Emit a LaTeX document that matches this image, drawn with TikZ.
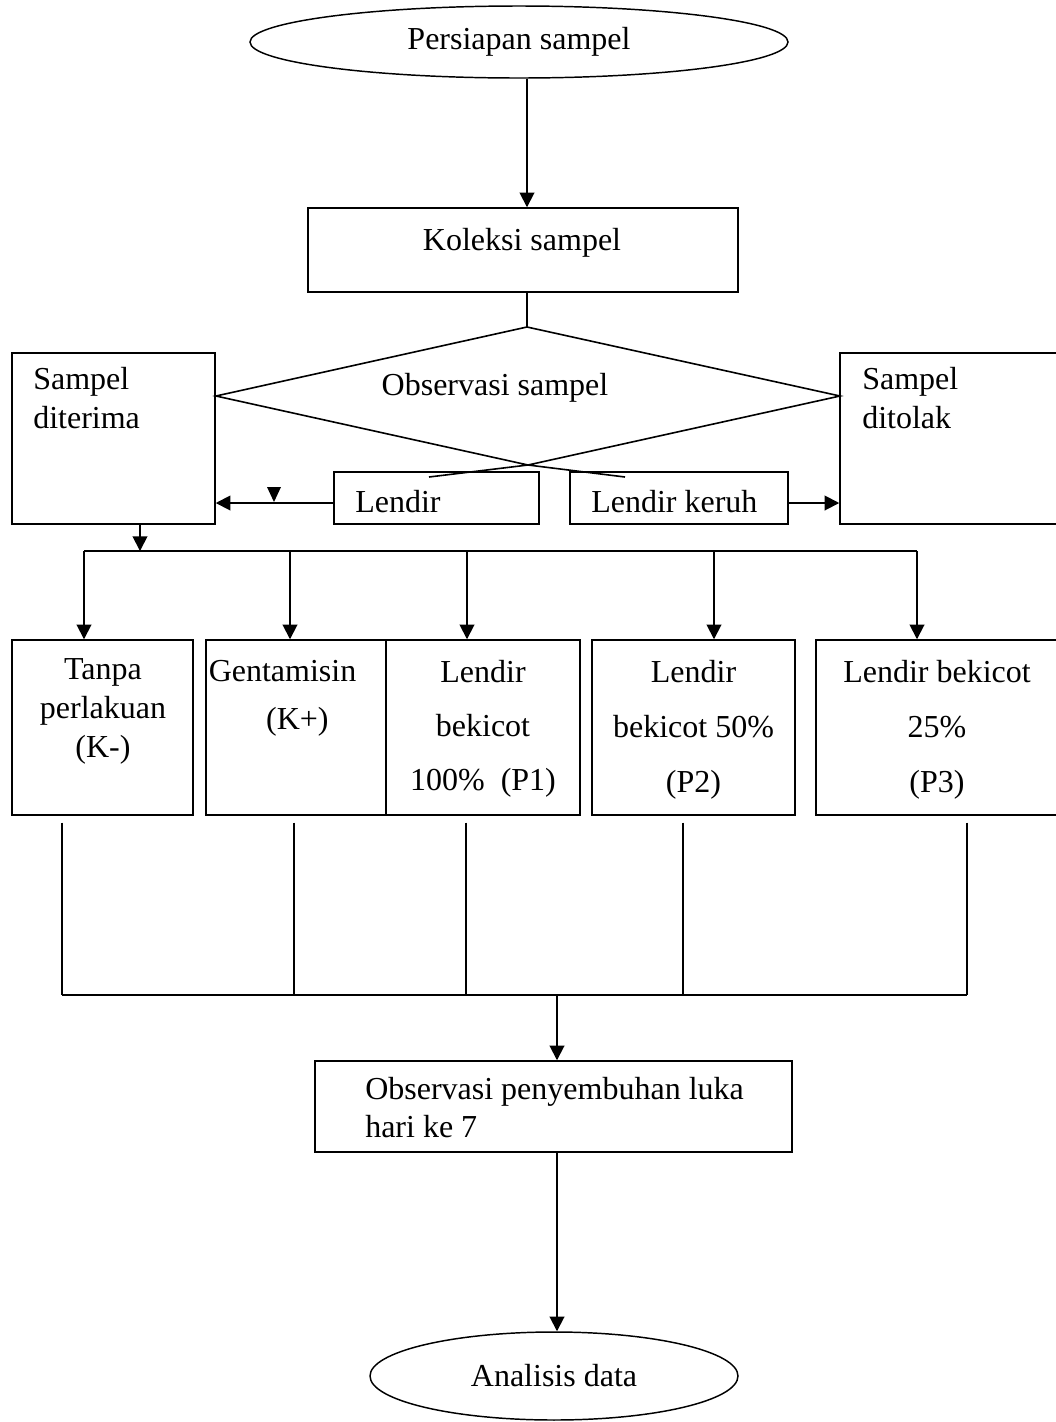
\documentclass[tikz,border=0pt]{standalone}
\usepackage{fontspec}
\setmainfont{Liberation Serif}
\usetikzlibrary{shapes.geometric,arrows.meta}
\begin{document}
\begin{tikzpicture}[x=0.75pt,y=-0.75pt,
  box/.style={draw,line width=1.1pt,inner sep=0pt,rectangle},
  oval/.style={draw,line width=1.1pt,inner sep=0pt,ellipse,font=\fontsize{24}{29}\selectfont},
  txt/.style={inner sep=0pt,font=\fontsize{24}{29}\selectfont},
  arr/.style={-{Triangle[width=11pt,length=11pt]},line width=1.4pt},
  ln/.style={line width=1.2pt}]
\useasboundingbox (0,0) rectangle (1056,1422);
\clip (0,0) rectangle (1056,1422);

% ellipses
\node[oval,minimum width=403.5pt,minimum height=54pt] (e1) at (519,42) {Persiapan sampel};
\node[oval,minimum width=276pt,minimum height=66pt] (e2) at (554,1376) {Analisis data};

% boxes
\node[box,minimum width=322.5pt,minimum height=63pt] (kol) at (523,250) {};
\node[box,minimum width=152.25pt,minimum height=128.25pt] (sd) at (113.5,438.5) {};
\node[box,minimum width=180pt,minimum height=128.25pt] (st) at (960,438.5) {};
\node[box,minimum width=153.75pt,minimum height=39pt] (len) at (436.5,498) {};
\node[box,minimum width=163.5pt,minimum height=39pt] (ker) at (679,498) {};
\node[box,minimum width=135.75pt,minimum height=131.25pt] (b1) at (102.5,727.5) {};
\node[box,minimum width=135pt,minimum height=131.25pt] (b2) at (296,727.5) {};
\node[box,minimum width=145.5pt,minimum height=131.25pt] (b3) at (483,727.5) {};
\node[box,minimum width=152.25pt,minimum height=131.25pt] (b4) at (693.5,727.5) {};
\node[box,minimum width=190.5pt,minimum height=131.25pt] (b5) at (943,727.5) {};
\node[box,minimum width=357.75pt,minimum height=68.25pt] (obs) at (553.5,1106.5) {};

% texts
\node[txt] (tkol) at (522,243) {Koleksi sampel};
\node[txt] (tos) at (495,388) {Observasi sampel};
\node[txt,align=left,anchor=west,font=\fontsize{24}{29.25}\selectfont] (tsd) at (33,398) {Sampel\\diterima};
\node[txt,align=left,anchor=west,font=\fontsize{24}{29.25}\selectfont] (tst) at (862,398) {Sampel\\ditolak};
\node[txt,anchor=west] (tlen) at (355,502) {Lendir};
\node[txt,anchor=west] (tker) at (591,502) {Lendir keruh};
\node[txt,align=center,font=\fontsize{24}{29.25}\selectfont] (tb1) at (103,711) {Tanpa\\perlakuan\\(K-)};
\node[txt,align=left,anchor=west,font=\fontsize{24}{36}\selectfont] (tb2) at (208.5,698) {Gentamisin\\\hspace*{43pt}(K+)};
\node[txt,align=center,font=\fontsize{24}{40.5}\selectfont] (tb3) at (483,729) {Lendir\\bekicot\\100\%\ \ (P1)};
\node[txt,align=center,font=\fontsize{24}{41.25}\selectfont] (tb4) at (693.5,730) {Lendir\\bekicot 50\%\\(P2)};
\node[txt,align=center,font=\fontsize{24}{41.25}\selectfont] (tb5) at (937,730) {Lendir bekicot\\25\%\\(P3)};
\node[txt,align=left,anchor=west,font=\fontsize{24}{28.5}\selectfont] (tobs) at (365,1108) {Observasi penyembuhan luka\\hari ke 7};

% diamond
\coordinate (T) at (527,327);
\coordinate (L) at (216,396);
\coordinate (R) at (840,396);
\coordinate (X) at (528,465);
\coordinate (E1) at (625,477);
\coordinate (E2) at (429,477);
\draw[ln,line join=miter] (E2) -- (X) -- (R) -- (T) -- (L) -- (X) -- (E1);

% connectors
\draw[arr] ([xshift=6pt]e1.south) -- ([xshift=3pt]kol.north);
\draw[ln] ([xshift=3pt]kol.south) -- (T);
\draw[arr] ([yshift=-3.75pt]len.west) -- ([yshift=-3.75pt]len.west -| sd.east);
\fill (267,487) -- (281,487) -- (274,502) -- cycle;
\draw[arr] ([yshift=-3.75pt]ker.east) -- ([yshift=-3.75pt]ker.east -| st.west);

\coordinate (busL) at (84,551);
\coordinate (busR) at (917,551);
\draw[arr] ([xshift=19.875pt]sd.south) -- ([xshift=19.875pt]sd.south |- busL);
\draw[ln] (busL) -- (busR);
\draw[arr] (busL) -- (busL |- b1.north);
\draw[arr] ([xshift=-4.5pt]b2.north |- busL) -- ([xshift=-4.5pt]b2.north);
\draw[arr] ([xshift=-12pt]b3.north |- busL) -- ([xshift=-12pt]b3.north);
\draw[arr] ([xshift=15.375pt]b4.north |- busL) -- ([xshift=15.375pt]b4.north);
\draw[arr] (busR) -- (busR |- b5.north);

\coordinate (jL) at (62,995);
\coordinate (jR) at (967,995);
\draw[ln] ([xshift=-30.375pt,yshift=-5.25pt]b1.south) -- ([xshift=-30.375pt]b1.south |- jL);
\draw[ln] ([xshift=-1.5pt,yshift=-5.25pt]b2.south) -- ([xshift=-1.5pt]b2.south |- jL);
\draw[ln] ([xshift=-12.75pt,yshift=-5.25pt]b3.south) -- ([xshift=-12.75pt]b3.south |- jL);
\draw[ln] ([xshift=-7.875pt,yshift=-5.25pt]b4.south) -- ([xshift=-7.875pt]b4.south |- jL);
\draw[ln] ([xshift=18pt,yshift=-5.25pt]b5.south) -- ([xshift=18pt]b5.south |- jL);
\draw[ln] (jL) -- (jR);
\draw[arr] ([xshift=2.625pt]obs.north |- jL) -- ([xshift=2.625pt]obs.north);
\draw[arr] ([xshift=2.625pt]obs.south) -- ([xshift=2.625pt]obs.south |- e2.north);
\end{tikzpicture}
\end{document}
